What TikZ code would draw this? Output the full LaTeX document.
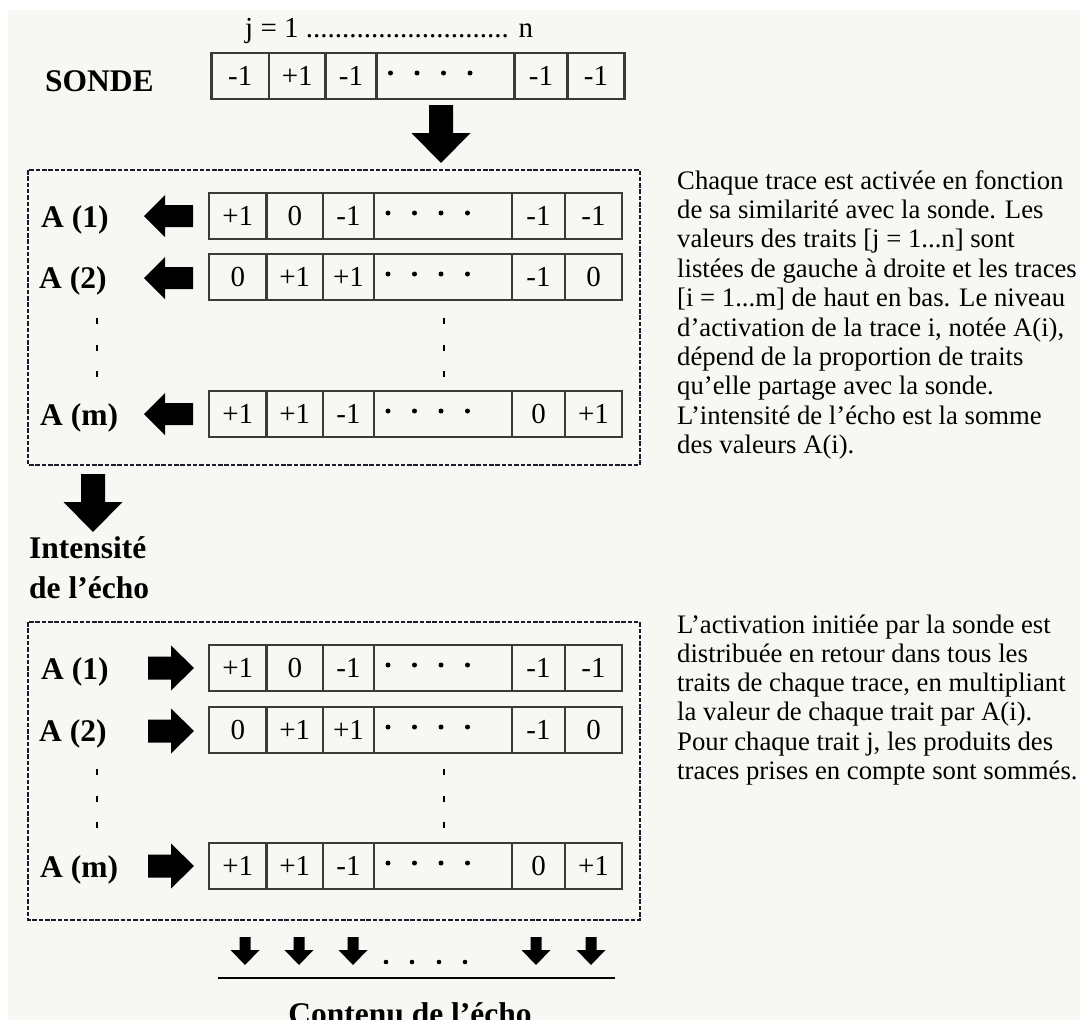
\documentclass[tikz,border=0pt]{standalone}
\usepackage{fontspec}
\setmainfont{Liberation Serif}
\definecolor{bgcol}{HTML}{F7F7F3}
\definecolor{cellgray}{HTML}{3A3A3A}
\definecolor{dashcol}{HTML}{1E1A2C}
\tikzset{
  cellbox/.style={draw=cellgray, line width=2.2pt, inner sep=0pt, outer sep=0pt,
    font=\fontsize{29}{29}\selectfont},
  lbl/.style={font=\bfseries\fontsize{31.5}{31.5}\selectfont, inner sep=0pt, anchor=base west},
  desc/.style={font=\fontsize{26.7}{29.4}\selectfont, inner sep=0pt, anchor=base west},
  dashbox/.style={draw=dashcol, line width=2.7pt, dash pattern=on 4.5pt off 1.8pt},
  larrow/.pic={\fill (0,0) -- (21,-21) -- (21,-11) -- (49,-11) -- (49,11) -- (21,11) -- (21,21) -- cycle;},
  rarrow/.pic={\fill (0,0) -- (-23,-22.5) -- (-23,-11.5) -- (-46,-11.5) -- (-46,11.5) -- (-23,11.5) -- (-23,22.5) -- cycle;},
  bigdown/.pic={\fill (0,0) -- (-29.5,-30) -- (-12,-30) -- (-12,-58) -- (12,-58) -- (12,-30) -- (29.5,-30) -- cycle;},
  smalldown/.pic={\fill (0,0) -- (-14.5,-15) -- (-5.5,-15) -- (-5.5,-28) -- (5.5,-28) -- (5.5,-15) -- (14.5,-15) -- cycle;},
}
% #1 name, #2 top y, #3 x shift, #4..#8 values
\newcommand\rowcells[8]{%
  \begin{scope}[xshift=#3]
    \foreach \xa/\xb/\v [count=\k] in {209/266.5/#4, 266.5/323/#5, 323/374/#6, 512/565/#7, 565/622/#8}{
      \node[cellbox, minimum width={(\xb-\xa)*1pt}, minimum height=46pt]
        (#1-\k) at ({(\xa+\xb)/2},{#2+23}) {\v};
    }
    \node[cellbox, minimum width=138pt, minimum height=46pt] (#1-dots) at (443,{#2+23}) {};
    \foreach \dx in {388,414.5,441,467.5}{\fill (\dx,{#2+20}) circle (2.5);}
  \end{scope}}
\newcommand\vdotsat[2]{% x, first y
  \foreach \dy in {0,27,53}{\fill ({#1-1.3},{#2+\dy-2.8}) rectangle ({#1+1.3},{#2+\dy+2.8});}}
\newcommand\threedots{.\kern0pt.\kern0pt.}
\begin{document}
\begin{tikzpicture}[x=1pt,y=-1pt]
\useasboundingbox (0,0) rectangle (1080,1020);
\clip (0,0) rectangle (1080,1020);
\fill[white] (0,0) rectangle (1080,1020);
\fill[bgcol] (8,10) rectangle (1080,1020);

% header
\node[font=\fontsize{29}{29}\selectfont, inner sep=0pt, anchor=base west] (jn) at (245,37)
  {j = 1 ............................ n};
\node[lbl] (sonde) at (45,91) {SONDE};
\rowcells{s}{53}{2.5}{-1}{+1}{-1}{-1}{-1}

% arrow into box 1
\pic at (441,163) {bigdown};

% box 1
\draw[dashbox] (28,170) rectangle (640,465);
\rowcells{ra}{193}{0}{+1}{0}{-1}{-1}{-1}
\rowcells{rb}{254}{0}{0}{+1}{+1}{-1}{0}
\rowcells{rm}{391}{0}{+1}{+1}{-1}{0}{+1}
\node[lbl] (la1) at (41,227) {A (1)};
\node[lbl] (la2) at (39,288) {A (2)};
\node[lbl] (lam) at (40,425) {A (m)};
\pic at (144,216) {larrow};
\pic at (144,278) {larrow};
\pic at (144,414) {larrow};
\vdotsat{97}{321}
\vdotsat{444}{321}

% description 1
\node[desc] (da1) at (677,189.0) {Chaque trace est activée en fonction};
\node[desc] (da2) at (677,218.4) {de sa similarité avec la sonde. Les};
\node[desc] (da3) at (677,247.8) {valeurs des traits [j = 1\threedots n] sont};
\node[desc] (da4) at (677,277.2) {listées de gauche à droite et les traces};
\node[desc] (da5) at (677,306.6) {[i = 1\threedots m] de haut en bas. Le niveau};
\node[desc] (da6) at (677,336.0) {d’activation de la trace i, notée A(i),};
\node[desc] (da7) at (677,365.4) {dépend de la proportion de traits};
\node[desc] (da8) at (677,394.8) {qu’elle partage avec la sonde.};
\node[desc] (da9) at (677,424.2) {L’intensité de l’écho est la somme};
\node[desc] (da10) at (677,453.6) {des valeurs A(i).};

% intensity
\pic at (93,532) {bigdown};
\node[lbl] (int1) at (29,558) {Intensité};
\node[lbl] (int2) at (29,598) {de l’écho};

% box 2
\draw[dashbox] (28,622) rectangle (640,920);
\rowcells{qa}{645}{0}{+1}{0}{-1}{-1}{-1}
\rowcells{qb}{707}{0}{0}{+1}{+1}{-1}{0}
\rowcells{qm}{843}{0}{+1}{+1}{-1}{0}{+1}
\node[lbl] (ka1) at (41,679) {A (1)};
\node[lbl] (ka2) at (39,741) {A (2)};
\node[lbl] (kam) at (40,877) {A (m)};
\pic at (194,668) {rarrow};
\pic at (194,731) {rarrow};
\pic at (194,866) {rarrow};
\vdotsat{97}{772}
\vdotsat{444}{772}

% description 2
\node[desc] (db1) at (677,633.0) {L’activation initiée par la sonde est};
\node[desc] (db2) at (677,662.3) {distribuée en retour dans tous les};
\node[desc] (db3) at (677,691.6) {traits de chaque trace, en multipliant};
\node[desc] (db4) at (677,720.9) {la valeur de chaque trait par A(i).};
\node[desc] (db5) at (677,750.2) {Pour chaque trait j, les produits des};
\node[desc] (db6) at (677,779.5) {traces prises en compte sont sommés.};

% echo content
\foreach \ax in {245,299,353,536,591}{\pic at (\ax,965) {smalldown};}
\foreach \dx in {386,412,439,465}{\fill (\dx,962) circle (2.3);}
\coordinate (lineL) at (218,978);
\coordinate (lineR) at (615,978);
\draw[line width=2pt] (lineL) -- (lineR);
\node[font=\bfseries\fontsize{31.5}{31.5}\selectfont, inner sep=0pt, anchor=base] (contenu) at (410,1024) {Contenu de l’écho};
\end{tikzpicture}
\end{document}
